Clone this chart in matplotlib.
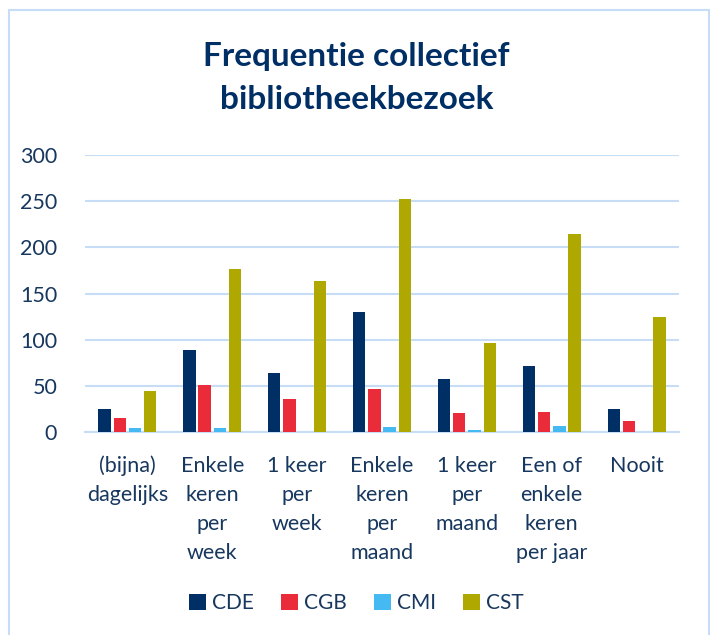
import numpy as np
import matplotlib.pyplot as plt
from matplotlib.patches import Rectangle

categories = ['(bijna)\ndagelijks', 'Enkele\nkeren\nper\nweek', '1 keer\nper\nweek',
              'Enkele\nkeren\nper\nmaand', '1 keer\nper\nmaand',
              'Een of\nenkele\nkeren\nper jaar', 'Nooit']
cde = [25, 89, 64, 130, 57, 71, 25]
cgb = [15, 51, 36, 47, 21, 22, 12]
cmi = [4, 4, 0, 5, 2, 6, 0]
cst = [44, 176, 164, 252, 96, 214, 125]

series = [('CDE', cde, '#002F65'), ('CGB', cgb, '#E92B3A'),
          ('CMI', cmi, '#45BAF2'), ('CST', cst, '#AFA800')]

text_col = '#17375E'
grid_col = '#C6DDF5'

plt.rcParams['font.family'] = ['Lato', 'DejaVu Sans']

fig = plt.figure(figsize=(7.13, 6.35), dpi=100)
ax = fig.add_axes([85 / 713, 1 - 432 / 635, (679 - 85) / 713, (432 - 155) / 635])

# outer chart border
fig.patches.append(Rectangle((9 / 713, -0.05), (709 - 9) / 713, 1.05 - 10 / 635,
                             transform=fig.transFigure, fill=False,
                             edgecolor='#C6DDF5', linewidth=1.5))

x = np.arange(len(categories))
step = 0.18
width = 0.145
for i, (name, vals, col) in enumerate(series):
    ax.bar(x + (i - 1.5) * step, vals, width, color=col, label=name, zorder=3)

ax.set_xlim(-0.5, len(categories) - 0.5)
ax.set_ylim(0, 300)
ax.set_yticks(range(0, 301, 50))
ax.yaxis.grid(True, color=grid_col, linewidth=1.5, zorder=0)
ax.set_axisbelow(True)
for s in ['top', 'right', 'left']:
    ax.spines[s].set_visible(False)
ax.spines['bottom'].set_color(grid_col)
ax.spines['bottom'].set_linewidth(1.5)
ax.tick_params(axis='both', length=0, labelsize=15.5, colors=text_col)
ax.tick_params(axis='y', pad=20)
ax.tick_params(axis='x', pad=17)
ax.set_xticks(x)
ax.set_xticklabels(categories, linespacing=1.57)

fig.text(0.5, 1 - 78 / 635, 'Frequentie collectief\nbibliotheekbezoek', ha='center', va='center',
         fontsize=24, fontweight='bold', color='#002F65', linespacing=1.62)

leg = fig.legend(loc='center', bbox_to_anchor=(0.5, 1 - 603 / 635), ncol=4, frameon=False,
                 fontsize=15, handlelength=0.8, handleheight=0.8, handletextpad=0.3,
                 columnspacing=1.3)
for t in leg.get_texts():
    t.set_color(text_col)

fig.savefig('out.png', dpi=100)
